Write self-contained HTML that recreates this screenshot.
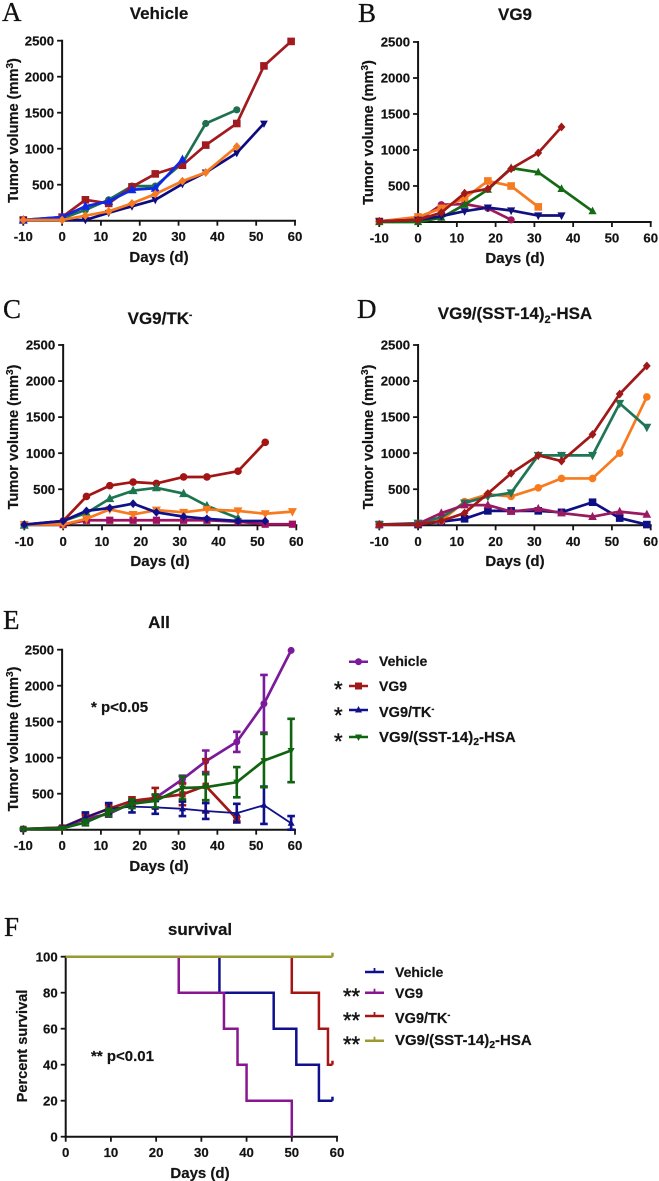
<!DOCTYPE html>
<html lang="en">
<head>
<meta charset="utf-8">
<title>Tumor volume and survival panels</title>
<style>
html,body{margin:0;padding:0;background:#fff;}
svg{display:block;}
text{font-family:"Liberation Sans",sans-serif;font-weight:bold;fill:#141414;stroke:#141414;stroke-width:.2px;}
.letter{font-family:"Liberation Serif",serif;font-weight:normal;font-size:27px;fill:#111;stroke-width:.3px;}
.title{font-size:17px;text-anchor:middle;}
.xt{font-size:15px;text-anchor:middle;}
.yt{font-size:14.6px;text-anchor:middle;}
.note{font-size:15px;}
.leg{font-size:14px;}
.leg-mid{font-size:14.5px;}
.leg-long{font-size:15px;}
.star{font-size:22px;font-weight:normal;stroke-width:.5px;}
.tick{font-size:13.2px;}
</style>
</head>
<body>
<svg xmlns="http://www.w3.org/2000/svg" width="659" height="1181" viewBox="0 0 659 1181">
<rect width="659" height="1181" fill="#fff"/>

<g id="panelA">
<text class="letter" x="2" y="21">A</text>
<text class="title" x="159" y="19">Vehicle</text>
<text class="xt" x="159" y="262">Days (d)</text>
<text class="yt" transform="translate(18,130.5) rotate(-90)">Tumor volume (mm<tspan font-size="10" dy="-5">3</tspan><tspan dy="5">)</tspan></text>
</g>

<g id="panelB">
<text class="letter" x="358" y="22">B</text>
<text class="title" x="515" y="20">VG9</text>
<text class="xt" x="515" y="263">Days (d)</text>
<text class="yt" transform="translate(373,132.5) rotate(-90)">Tumor volume (mm<tspan font-size="10" dy="-5">3</tspan><tspan dy="5">)</tspan></text>
</g>

<g id="panelC">
<text class="letter" x="3" y="318">C</text>
<text class="title" x="160" y="324">VG9/TK<tspan font-size="10" dy="-6">-</tspan></text>
<text class="xt" x="160" y="566">Days (d)</text>
<text class="yt" transform="translate(18,437) rotate(-90)">Tumor volume (mm<tspan font-size="10" dy="-5">3</tspan><tspan dy="5">)</tspan></text>
</g>

<g id="panelD">
<text class="letter" x="357" y="318">D</text>
<text class="title" x="515" y="319">VG9/(SST-14)<tspan font-size="11" dy="4">2</tspan><tspan dy="-4">-HSA</tspan></text>
<text class="xt" x="515" y="566">Days (d)</text>
<text class="yt" transform="translate(373,437) rotate(-90)">Tumor volume (mm<tspan font-size="10" dy="-5">3</tspan><tspan dy="5">)</tspan></text>
</g>

<g id="panelE">
<text class="letter" x="3" y="629">E</text>
<text class="title" x="159" y="628">All</text>
<text class="xt" x="159" y="871">Days (d)</text>
<text class="yt" transform="translate(18,739) rotate(-90)">Tumor volume (mm<tspan font-size="10" dy="-5">3</tspan><tspan dy="5">)</tspan></text>
<text class="note" x="91" y="712">* p&lt;0.05</text>
</g>

<g id="legendE">
<text class="leg" x="379" y="666">Vehicle</text>
<text class="leg" x="379" y="691">VG9</text>
<text class="leg-mid" x="379" y="717">VG9/TK<tspan font-size="9" dy="-5">-</tspan></text>
<text class="leg-long" x="379" y="742">VG9/(SST-14)<tspan font-size="10.5" dy="3">2</tspan><tspan dy="-3">-HSA</tspan></text>
<text class="star" x="334" y="697">*</text>
<text class="star" x="334" y="723">*</text>
<text class="star" x="334" y="749">*</text>
</g>

<g id="panelF">
<text class="letter" x="4" y="936">F</text>
<text class="title" x="200" y="935">survival</text>
<text class="xt" x="200" y="1178">Days (d)</text>
<text class="yt" transform="translate(27,1046) rotate(-90)">Percent survival</text>
<text class="note" x="91" y="1061">** p&lt;0.01</text>
</g>

<g id="legendF">
<text class="leg" x="395" y="977">Vehicle</text>
<text class="leg" x="395" y="998">VG9</text>
<text class="leg-mid" x="395" y="1023">VG9/TK<tspan font-size="9" dy="-5">-</tspan></text>
<text class="leg-long" x="395" y="1045">VG9/(SST-14)<tspan font-size="10.5" dy="3">2</tspan><tspan dy="-3">-HSA</tspan></text>
<text class="star" x="343" y="1004">**</text>
<text class="star" x="343" y="1028">**</text>
<text class="star" x="343" y="1052">**</text>
</g>
</svg>

<script>
// ---- shared categories and tick labels ----
const days = [-10, 0, 6, 12, 18, 24, 31, 37, 45, 52, 59];
const xTickLabels = [-10, 0, 10, 20, 30, 40, 50, 60];
const yTickLabels = [500, 1000, 1500, 2000, 2500];
const survivalXTickLabels = [0, 10, 20, 30, 40, 50, 60];
const survivalYTickLabels = [0, 20, 40, 60, 80, 100];

// ---- panel A values ----
const aSquare = [10, 50, 290, 240, 470, 650, 770, 1050, 1350, 2150, 2490];
const aCircle = [10, 30, 150, 290, 480, 480, 800, 1350, 1540];
const aUp = [10, 50, 200, 270, 430, 450, 850];
const aDown = [10, 10, 10, 110, 200, 290, 510, 670, 940, 1350];
const aDiamond = [10, 10, 70, 130, 240, 370, 550, 670, 1030];

// ---- panel B values ----
const bCircle = [10, 20, 240, 250, 190, 30];
const bSquare = [10, 70, 190, 330, 570, 500, 210];
const bUp = [0, 0, 60, 240, 450, 750, 690, 460, 150];
const bDown = [10, 30, 80, 150, 200, 160, 90, 90];
const bDiamond = [10, 30, 130, 400, 460, 740, 960, 1320];

// ---- panel C values ----
const cCircle = [10, 60, 400, 550, 600, 580, 670, 670, 750, 1150];
const cUp = [0, 60, 170, 370, 480, 520, 440, 270, 100];
const cSquare = [10, 10, 70, 70, 70, 70, 70, 70, 50, 15, 15];
const cDown = [10, 10, 90, 220, 150, 210, 180, 220, 200, 160, 190];
const cDiamond = [10, 60, 200, 240, 300, 180, 120, 90, 60, 60];

// ---- panel D values ----
const dSquare = [10, 10, 50, 90, 200, 200, 200, 180, 320, 100, 10];
const dCircle = [10, 20, 60, 330, 430, 400, 520, 650, 650, 1000, 1780];
const dDown = [10, 30, 110, 310, 400, 450, 970, 970, 970, 1690, 1360];
const dUp = [10, 20, 170, 280, 280, 190, 230, 170, 120, 190, 150];
const dDiamond = [10, 10, 60, 170, 440, 720, 970, 890, 1260, 1820, 2210];

// ---- panel E means and error bars ----
const eVehicle = [10, 30, 150, 220, 370, 440, 700, 950, 1220, 1750, 2490];
const eVehicleErr = [5, 10, 50, 40, 40, 40, 50, 150, 140, 400, 0];
const eVg9 = [10, 30, 170, 290, 400, 440, 490, 610, 150];
const eVg9Err = [5, 10, 50, 50, 50, 140, 150, 370, 30];
const eTk = [10, 30, 170, 290, 320, 310, 290, 260, 230, 340, 90];
const eTkErr = [5, 10, 70, 80, 80, 90, 100, 110, 130, 260, 100];
const eSst = [10, 20, 100, 240, 360, 400, 580, 590, 660, 960, 1100];
const eSstErr = [5, 10, 40, 50, 60, 90, 160, 180, 210, 370, 440];

// ---- panel F survival steps ----
const fVehicleDays = [0, 34, 46, 51, 56, 59];
const fVehicleSurvival = [100, 80, 60, 40, 20, 20];
const fVg9Days = [0, 25, 35, 38, 40, 50];
const fVg9Survival = [100, 80, 60, 40, 20, 0];
const fTkDays = [0, 50, 56, 58, 59];
const fTkSurvival = [100, 80, 60, 40, 40];
const fSstDays = [0, 59];
const fSstSurvival = [100, 100];

const NS = 'http://www.w3.org/2000/svg';
function mk(tag, attrs, parent) {
  const el = document.createElementNS(NS, tag);
  for (const k in attrs) el.setAttribute(k, attrs[k]);
  parent.appendChild(el);
  return el;
}
const AXIS = '#141414';

function scaleX(p, v) { return p.x0 + (v - p.xMin) / (p.xMax - p.xMin) * (p.x1 - p.x0); }
function scaleY(p, v) { return p.y0 - (v - p.yMin) / (p.yMax - p.yMin) * (p.y0 - p.y1); }

function drawAxes(p, g, xLabels, yLabels) {
  const ax = scaleX(p, 0);
  const yAxis = mk('line', {x1: ax, x2: ax, y1: p.y1 - 1, y2: p.y0 + 1, stroke: AXIS, 'stroke-width': 2}, g);
  
  
  const xAxis = mk('line', {x1: p.x0 - 1, x2: p.x1 + 1, y1: p.y0, y2: p.y0, stroke: AXIS, 'stroke-width': 2}, g);
  
  
  xLabels.forEach(function (t) {
    const x = scaleX(p, t);
    const tick = mk('line', {x1: x, x2: x, y1: p.y0, y2: p.y0 + 5, stroke: AXIS, 'stroke-width': 1.8}, g);
    
    
    const lab = mk('text', {x: x, y: p.y0 + 20.5, 'text-anchor': 'middle', class: 'tick'}, g);
    
    
    lab.textContent = t;
  });
  yLabels.forEach(function (t) {
    const y = scaleY(p, t);
    const tick = mk('line', {x1: ax - 5, x2: ax, y1: y, y2: y, stroke: AXIS, 'stroke-width': 1.8}, g);
    
    
    const lab = mk('text', {x: ax - 8, y: y + 4.6, 'text-anchor': 'end', class: 'tick'}, g);
    
    
    lab.textContent = t;
  });
}

function marker(parent, shape, x, y, color, r) {
  if (shape === 'circle') return mk('circle', {cx: x, cy: y, r: r, fill: color}, parent);
  if (shape === 'square') return mk('rect', {x: x - r, y: y - r, width: 2 * r, height: 2 * r, fill: color}, parent);
  let pts;
  if (shape === 'up') pts = [[x, y - r - 1], [x + r + 0.5, y + r - 0.5], [x - r - 0.5, y + r - 0.5]];
  if (shape === 'down') pts = [[x, y + r + 1], [x + r + 0.5, y - r + 0.5], [x - r - 0.5, y - r + 0.5]];
  if (shape === 'diamond') pts = [[x, y - r - 1], [x + r + 0.5, y], [x, y + r + 1], [x - r - 0.5, y]];
  return mk('polygon', {points: pts.map(function (q) { return q.join(','); }).join(' '), fill: color}, parent);
}

function drawSeries(p, g, s) {
  const sg = mk('g', {}, g);
  
  
  const xs = s.values.map(function (v, i) { return scaleX(p, days[i]); });
  const ys = s.values.map(function (v) { return scaleY(p, v); });
  if (s.errors) {
    s.errors.forEach(function (e, i) {
      if (!e) return;
      const hi = scaleY(p, s.values[i] + e);
      const lo = scaleY(p, Math.max(0, s.values[i] - e));
      const d = 'M' + xs[i] + ' ' + hi + 'V' + lo + 'M' + (xs[i] - 3.8) + ' ' + hi + 'H' + (xs[i] + 3.8) + 'M' + (xs[i] - 3.8) + ' ' + lo + 'H' + (xs[i] + 3.8);
      const bar = mk('path', {d: d, stroke: s.color, 'stroke-width': 2.6, fill: 'none'}, sg);
      
      
    });
  }
  const line = mk('polyline', {
    points: xs.map(function (x, i) { return x + ',' + ys[i]; }).join(' '),
    fill: 'none', stroke: s.color, 'stroke-width': s.width || 2.7, 'stroke-linejoin': 'round'
  }, sg);
  
  
  xs.forEach(function (x, i) {
    const m = marker(sg, s.shape, x, ys[i], s.color, s.size || 4);
    
    
  });
}

function drawStep(p, g, s) {
  const sg = mk('g', {}, g);
  
  
  let d = 'M' + scaleX(p, s.days[0]) + ' ' + scaleY(p, s.values[0]);
  for (let i = 1; i < s.days.length; i++) {
    d += 'H' + scaleX(p, s.days[i]) + 'V' + scaleY(p, s.values[i]);
  }
  const path = mk('path', {d: d, fill: 'none', stroke: s.color, 'stroke-width': 2.5}, sg);
  
  
  if (s.censored) {
    const last = s.days.length - 1;
    const cx = scaleX(p, s.days[last]);
    const cy = scaleY(p, s.values[last]);
    const c = mk('line', {x1: cx, x2: cx, y1: cy, y2: cy - 4, stroke: s.color, 'stroke-width': 2.5}, sg);
    
    
  }
}

const geomA = {x0: 23.3, x1: 295, y0: 220.7, y1: 40.7, xMin: -10, xMax: 60, yMin: 0, yMax: 2500};
const geomB = {x0: 379.3, x1: 650.7, y0: 222, y1: 42, xMin: -10, xMax: 60, yMin: 0, yMax: 2500};
const geomC = {x0: 24.3, x1: 296.3, y0: 525.3, y1: 345, xMin: -10, xMax: 60, yMin: 0, yMax: 2500};
const geomD = {x0: 379.3, x1: 650.7, y0: 525.3, y1: 345, xMin: -10, xMax: 60, yMin: 0, yMax: 2500};
const geomE = {x0: 23.3, x1: 295, y0: 829.7, y1: 649.7, xMin: -10, xMax: 60, yMin: 0, yMax: 2500};
const geomF = {x0: 65.7, x1: 337, y0: 1136.7, y1: 956.7, xMin: 0, xMax: 60, yMin: 0, yMax: 100};

const panels = [
  {id: 'panelA', geom: geomA, series: [
    {name: 'series-a-circle', values: aCircle, color: '#1f7050', shape: 'circle', size: 3.6},
    {name: 'series-a-square', values: aSquare, color: '#a01a20', shape: 'square', size: 3.8},
    {name: 'series-a-down', values: aDown, color: '#0c0c80', shape: 'down', size: 3.4},
    {name: 'series-a-up', values: aUp, color: '#0f28e6', shape: 'up', size: 4},
    {name: 'series-a-diamond', values: aDiamond, color: '#f57a20', shape: 'diamond', size: 3.4}
  ]},
  {id: 'panelB', geom: geomB, series: [
    {name: 'series-b-circle', values: bCircle, color: '#a0185c', shape: 'circle', size: 3.6},
    {name: 'series-b-square', values: bSquare, color: '#f57a20', shape: 'square', size: 3.8},
    {name: 'series-b-up', values: bUp, color: '#156a14', shape: 'up', size: 3.6},
    {name: 'series-b-down', values: bDown, color: '#10107f', shape: 'down', size: 3.6},
    {name: 'series-b-diamond', values: bDiamond, color: '#a01818', shape: 'diamond', size: 3.4}
  ]},
  {id: 'panelC', geom: geomC, series: [
    {name: 'series-c-square', values: cSquare, color: '#a01260', shape: 'square', size: 3.6},
    {name: 'series-c-circle', values: cCircle, color: '#a31515', shape: 'circle', size: 3.8},
    {name: 'series-c-up', values: cUp, color: '#1d7550', shape: 'up', size: 4},
    {name: 'series-c-down', values: cDown, color: '#f77a1f', shape: 'down', size: 4},
    {name: 'series-c-diamond', values: cDiamond, color: '#10108a', shape: 'diamond', size: 3.4}
  ]},
  {id: 'panelD', geom: geomD, series: [
    {name: 'series-d-square', values: dSquare, color: '#0f0f85', shape: 'square', size: 3.8},
    {name: 'series-d-circle', values: dCircle, color: '#f77a1f', shape: 'circle', size: 3.8},
    {name: 'series-d-down', values: dDown, color: '#1f7555', shape: 'down', size: 4},
    {name: 'series-d-up', values: dUp, color: '#9a1a60', shape: 'up', size: 3.8},
    {name: 'series-d-diamond', values: dDiamond, color: '#a01818', shape: 'diamond', size: 3.4}
  ]},
  {id: 'panelE', geom: geomE, series: [
    {name: 'series-e-vehicle', values: eVehicle, errors: eVehicleErr, color: '#7b1a9a', shape: 'circle', size: 3.5},
    {name: 'series-e-vg9', values: eVg9, errors: eVg9Err, color: '#a01818', shape: 'square', size: 3.2},
    {name: 'series-e-vg9-tk', values: eTk, errors: eTkErr, color: '#10108a', shape: 'up', size: 3, width: 1.8},
    {name: 'series-e-vg9-sst14-hsa', values: eSst, errors: eSstErr, color: '#10640f', shape: 'down', size: 3}
  ]}
];

panels.forEach(function (pn) {
  const g = document.getElementById(pn.id);
  drawAxes(pn.geom, g, xTickLabels, yTickLabels);
  pn.series.forEach(function (s) { drawSeries(pn.geom, g, s); });
});

const gF = document.getElementById('panelF');
drawAxes(geomF, gF, survivalXTickLabels, survivalYTickLabels);
[
  {name: 'survival-vehicle', days: fVehicleDays, values: fVehicleSurvival, color: '#10108f', censored: true},
  {name: 'survival-vg9', days: fVg9Days, values: fVg9Survival, color: '#8a1590', censored: false},
  {name: 'survival-vg9-tk', days: fTkDays, values: fTkSurvival, color: '#a51515', censored: true},
  {name: 'survival-vg9-sst14-hsa', days: fSstDays, values: fSstSurvival, color: '#9a9a30', censored: true}
].forEach(function (s) { drawStep(geomF, gF, s); });

// ---- legend keys ----
const legE = document.getElementById('legendE');
[
  {cy: 661.7, color: '#7b1a9a', shape: 'circle', size: 3.5},
  {cy: 686, color: '#a01818', shape: 'square', size: 3.5},
  {cy: 710, color: '#10108a', shape: 'up', size: 3},
  {cy: 737, color: '#10640f', shape: 'down', size: 3}
].forEach(function (k) {
  const key = mk('g', {}, legE);
  
  
  mk('line', {x1: 349, x2: 368, y1: k.cy, y2: k.cy, stroke: k.color, 'stroke-width': 2.5}, key);
  marker(key, k.shape, 358.5, k.cy, k.color, k.size);
});

const legF = document.getElementById('legendF');
[
  {cy: 972, color: '#10108f'},
  {cy: 992.7, color: '#8a1590'},
  {cy: 1016, color: '#a51515'},
  {cy: 1040.7, color: '#9a9a30'}
].forEach(function (k) {
  const key = mk('g', {}, legF);
  
  
  mk('line', {x1: 365, x2: 384, y1: k.cy, y2: k.cy, stroke: k.color, 'stroke-width': 2.5}, key);
  mk('line', {x1: 374.5, x2: 374.5, y1: k.cy, y2: k.cy - 4, stroke: k.color, 'stroke-width': 1.8}, key);
});
</script>
</body>
</html>
